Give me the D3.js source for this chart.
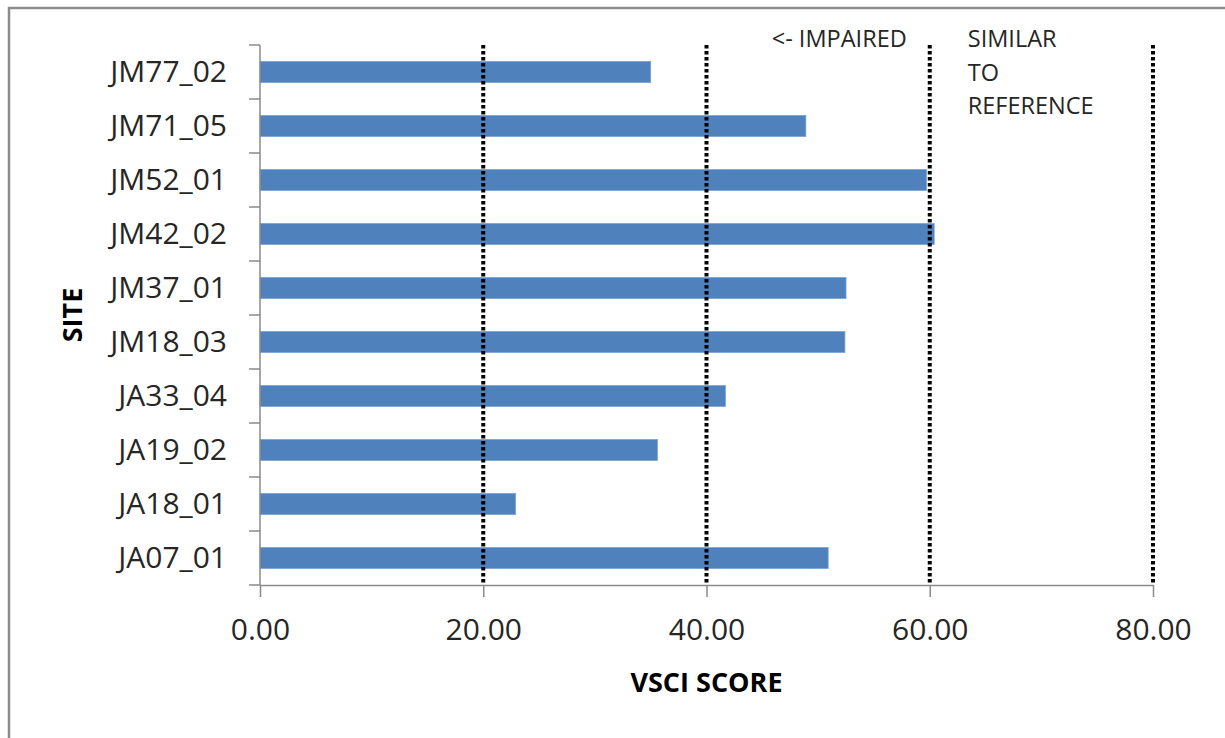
<!DOCTYPE html>
<html>
<head>
<meta charset="utf-8">
<script src="https://cdn.jsdelivr.net/npm/d3@7"></script>
<style>
  body { margin: 0; background: #fff; }
  svg { display: block; font-family: "Open Sans", sans-serif; }
  .axis path, .axis line { stroke: #8a8a8a; stroke-width: 1.5; }
  .axis text { fill: #262626; }
</style>
</head>
<body>
<svg id="chart" width="1225" height="738"></svg>
<script>
// sites, top to bottom
var sites = ["JM77_02", "JM71_05", "JM52_01", "JM42_02", "JM37_01",
  "JM18_03", "JA33_04", "JA19_02", "JA18_01", "JA07_01"];
var scores = [35.0, 48.9, 59.7, 60.4, 52.5, 52.4, 41.7, 35.6, 22.9, 50.9];
var xTicks = [0, 20, 40, 60, 80];
var refLines = [20, 40, 60, 80];

var data = sites.map(function (s, i) {
  return { site: s, score: scores[i] };
});

var svg = d3.select("#chart"),
  margin = { top: 45, right: 72, bottom: 153, left: 260 },
  width = +svg.attr("width") - margin.left - margin.right,
  height = +svg.attr("height") - margin.top - margin.bottom;

// outer frame
svg.append("rect")
  .attr("x", 9).attr("y", 8)
  .attr("width", 1240).attr("height", 760)
  .attr("fill", "none")
  .attr("stroke", "#8c8c8c")
  .attr("stroke-width", 2.5);

var x = d3.scaleLinear().domain([0, 80]).range([0, width]),
  y = d3.scaleBand().domain(sites).range([0, height])
    .paddingInner(0.61).paddingOuter(0.305);

var g = svg.append("g")
  .attr("transform", "translate(" + margin.left + "," + margin.top + ")");

// bars
g.selectAll(".bar")
  .data(data)
  .enter()
  .append("rect")
  .attr("class", "bar")
  .attr("x", 0)
  .attr("y", function (d) { return y(d.site); })
  .attr("width", function (d) { return x(d.score); })
  .attr("height", y.bandwidth())
  .attr("fill", "#4f81bd")
  .attr("stroke", "#7ba3d6")
  .attr("stroke-width", 0.8);

// dotted reference lines
g.selectAll(".ref")
  .data(refLines)
  .enter()
  .append("line")
  .attr("class", "ref")
  .attr("x1", function (d) { return x(d); })
  .attr("x2", function (d) { return x(d); })
  .attr("y1", 0)
  .attr("y2", height)
  .attr("stroke", "#000")
  .attr("stroke-width", 4)
  .attr("stroke-dasharray", "3.5,2.5");

// x axis
g.append("g")
  .attr("class", "axis axis--x")
  .attr("transform", "translate(0," + height + ")")
  .call(d3.axisBottom(x).tickValues(xTicks).tickSizeInner(12).tickSizeOuter(0)
    .tickPadding(22).tickFormat(d3.format(".2f")))
  .attr("font-family", null)
  .attr("font-size", 30);

// y axis labels (ticks sit between categories, like Excel)
var yAxis = g.append("g")
  .attr("class", "axis axis--y")
  .call(d3.axisLeft(y).tickSize(0).tickPadding(33))
  .attr("font-family", null)
  .attr("font-size", 30);
yAxis.select(".domain").remove();

var step = y.step();
g.append("g")
  .attr("class", "axis")
  .selectAll("line")
  .data(d3.range(sites.length + 1))
  .enter()
  .append("line")
  .attr("x1", -11).attr("x2", 0)
  .attr("y1", function (i) { return i * step; })
  .attr("y2", function (i) { return i * step; });

g.append("line")
  .attr("x1", 0).attr("x2", 0)
  .attr("y1", 0).attr("y2", height)
  .attr("stroke", "#8a8a8a")
  .attr("stroke-width", 1.5);

// axis titles
svg.append("text")
  .attr("x", margin.left + width / 2)
  .attr("y", 692)
  .attr("text-anchor", "middle")
  .attr("font-weight", 700)
  .attr("font-size", 27)
  .attr("fill", "#000")
  .text("VSCI SCORE");

svg.append("text")
  .attr("transform", "translate(82,315) rotate(-90)")
  .attr("text-anchor", "middle")
  .attr("font-weight", 700)
  .attr("font-size", 27)
  .attr("fill", "#000")
  .text("SITE");

// zone notes
var notes = g.append("g")
  .attr("font-size", 23.5)
  .attr("fill", "#262626");

notes.append("text")
  .attr("x", x(60) - 23)
  .attr("y", 2)
  .attr("text-anchor", "end")
  .text("<- IMPAIRED");

notes.selectAll(".sim")
  .data(["SIMILAR", "TO", "REFERENCE"])
  .enter()
  .append("text")
  .attr("class", "sim")
  .attr("x", x(60) + 38)
  .attr("y", function (d, i) { return 2 + i * 33.5; })
  .text(function (d) { return d; });
</script>
</body>
</html>
